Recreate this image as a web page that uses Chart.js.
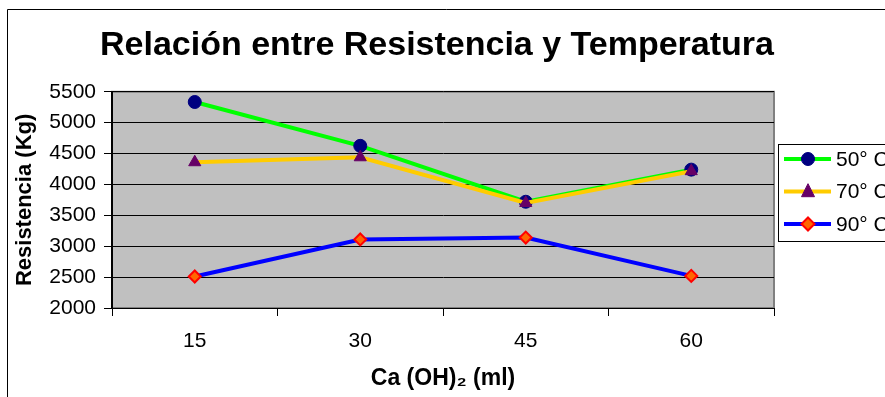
<!DOCTYPE html>
<html>
<head>
	<meta charset="UTF-8">
	<title>Resistencia y Temperatura</title>
	<script src="https://cdn.jsdelivr.net/npm/chart.js@4.4.0/dist/chart.umd.min.js"></script>
	<style>
		body {
			margin:0;
			padding:0;
			overflow: hidden;
			background: #fff;
		}
	</style>
</head>
<body>
	<canvas id="chart" width="885" height="397"></canvas>
	<script>
		// datos
		const categorias = ['15', '30', '45', '60'];
		const temp50 = [5335, 4625, 3720, 4240];
		const temp70 = [4360, 4440, 3700, 4215];
		const temp90 = [2510, 3110, 3140, 2520];
		const series = ['50° C', '70° C', '90° C'];

		const FONT = "Arial, 'Liberation Sans', sans-serif";

		// fondo, marco exterior y area gris
		const fondoPlugin = {
			id: 'fondo',
			beforeDraw(chart) {
				const c = chart.ctx;
				const a = chart.chartArea;
				c.save();
				c.fillStyle = '#fff';
				c.fillRect(0, 0, chart.width, chart.height);
				c.strokeStyle = '#000';
				c.lineWidth = 1;
				c.beginPath();
				c.moveTo(7.5, chart.height + 2);
				c.lineTo(7.5, 9.5);
				c.lineTo(chart.width + 2, 9.5);
				c.stroke();
				c.fillStyle = '#c0c0c0';
				c.fillRect(a.left, a.top, a.right - a.left, a.bottom - a.top);
				c.strokeStyle = '#808080';
				c.lineWidth = 2;
				c.strokeRect(a.left, a.top, a.right - a.left, a.bottom - a.top);
				c.restore();
			}
		};

		// leyenda a la derecha, cortada por el borde como en el original
		const leyendaPlugin = {
			id: 'leyenda',
			afterDraw(chart) {
				const c = chart.ctx;
				const x0 = 778, y0 = 144;
				c.save();
				c.fillStyle = '#fff';
				c.fillRect(x0, y0, 200, 97);
				c.strokeStyle = '#000';
				c.lineWidth = 1;
				c.strokeRect(x0 + 0.5, y0 + 0.5, 200, 97);
				chart.data.datasets.forEach((ds, i) => {
					const y = 159 + i * 32.5;
					c.strokeStyle = ds.borderColor;
					c.lineWidth = 4;
					c.beginPath();
					c.moveTo(784, y);
					c.lineTo(831, y);
					c.stroke();
					c.fillStyle = ds.pointBackgroundColor;
					c.strokeStyle = ds.pointBorderColor;
					c.lineWidth = ds.pointBorderWidth;
					const r = 6.5, mx = 808;
					c.beginPath();
					if (ds.pointStyle === 'circle') {
						c.arc(mx, y, r, 0, Math.PI * 2);
					} else if (ds.pointStyle === 'triangle') {
						c.moveTo(mx, y - r * 1.2);
						c.lineTo(mx + r, y + r * 0.8);
						c.lineTo(mx - r, y + r * 0.8);
						c.closePath();
					} else {
						c.moveTo(mx, y - r);
						c.lineTo(mx + r, y);
						c.lineTo(mx, y + r);
						c.lineTo(mx - r, y);
						c.closePath();
					}
					c.fill();
					c.stroke();
					c.fillStyle = '#000';
					c.font = '21px ' + FONT;
					c.textBaseline = 'middle';
					c.fillText(ds.label, 836, y + 1);
				});
				c.restore();
			}
		};

		const ctx = document.getElementById('chart').getContext('2d');
		const myChart = new Chart(ctx, {
			type: 'line',
			data: {
				labels: categorias,
				datasets: [{
					label: series[0],
					data: temp50,
					borderColor: '#00ff00',
					borderWidth: 4,
					pointStyle: 'circle',
					pointRadius: 6.5,
					pointBackgroundColor: '#000080',
					pointBorderColor: '#000080',
					pointBorderWidth: 1,
					order: 3
				},
				{
					label: series[1],
					data: temp70,
					borderColor: '#ffcc00',
					borderWidth: 4,
					pointStyle: 'triangle',
					pointRadius: 7,
					pointBackgroundColor: '#660066',
					pointBorderColor: '#660066',
					pointBorderWidth: 1,
					order: 2
				},
				{
					label: series[2],
					data: temp90,
					borderColor: '#0000ff',
					borderWidth: 4,
					pointStyle: 'rectRot',
					pointRadius: 6,
					pointBackgroundColor: '#ff6600',
					pointBorderColor: '#ff0000',
					pointBorderWidth: 2,
					order: 1
				}]
			},
			options: {
				responsive: false,
				animation: false,
				layout: {
					padding: { left: 0, top: 0, right: 11, bottom: 0 }
				},
				elements: {
					line: { tension: 0, fill: false }
				},
				plugins: {
					legend: { display: false },
					tooltip: { enabled: false },
					title: {
						display: true,
						text: 'Relación entre Resistencia y Temperatura',
						color: '#000',
						font: { family: FONT, size: 34, weight: 'bold' },
						padding: { top: 25, bottom: 26 }
					}
				},
				scales: {
					x: {
						type: 'category',
						offset: true,
						grid: {
							offset: true,
							drawOnChartArea: false,
							tickLength: 8,
							color: '#000'
						},
						border: { color: '#000', width: 1 },
						ticks: {
							color: '#000',
							font: { family: FONT, size: 21 },
							padding: 13,
							maxRotation: 0
						},
						title: {
							display: true,
							text: 'Ca (OH)₂ (ml)',
							color: '#000',
							font: { family: FONT, size: 23, weight: 'bold' },
							padding: { top: 0, bottom: 5 }
						},
						afterFit(s) { s.height = 89; }
					},
					y: {
						min: 2000,
						max: 5500,
						grid: {
							color: '#000',
							tickLength: 8
						},
						border: { color: '#000', width: 2 },
						ticks: {
							stepSize: 500,
							color: '#000',
							font: { family: FONT, size: 21 },
							padding: 8,
							callback: v => String(v)
						},
						title: {
							display: true,
							text: 'Resistencia (Kg)',
							color: '#000',
							font: { family: FONT, size: 22, weight: 'bold' },
							padding: { top: 12, bottom: 0 }
						},
						afterFit(s) { s.width = 112; }
					},
					// eje vacio que reserva el sitio de la leyenda
					hueco: {
						position: 'right',
						display: true,
						grid: { display: false },
						border: { display: false },
						ticks: { display: false },
						afterFit(s) { s.width = 100; }
					}
				}
			},
			plugins: [fondoPlugin, leyendaPlugin]
		});
	</script>
</body>
</html>
